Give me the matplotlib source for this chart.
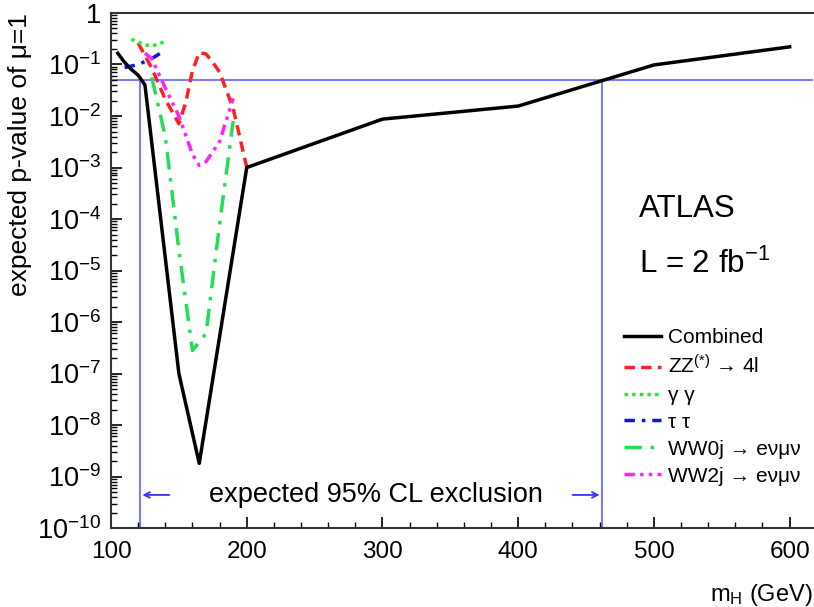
import matplotlib
matplotlib.use('Agg')
import matplotlib.pyplot as plt
from matplotlib.ticker import LogLocator, NullFormatter, MultipleLocator

#### ATLAS expected p-value of mu=1 vs m_H ####

# 數據
comb_m = [105, 110, 115, 120, 125, 150, 165, 200, 300, 400, 500, 600]
comb_p = [0.165, 0.11, 0.080, 0.062, 0.040, 1.0e-7, 1.8e-9, 1.0e-3, 8.7e-3, 1.56e-2, 0.098, 0.22]

zz_m = [120, 130, 140, 150, 155, 160, 165, 170, 175, 180, 190, 200]
zz_p = [0.26, 0.085, 0.021, 0.0071, 0.018, 0.076, 0.17, 0.16, 0.11, 0.071, 0.014, 0.001]

gg_m = [115, 120, 125, 130, 135, 140]
gg_p = [0.31, 0.27, 0.24, 0.23, 0.25, 0.28]

tt_m = [110, 120, 130, 140]
tt_p = [0.087, 0.10, 0.13, 0.19]

ww0_m = [130, 140, 150, 160, 170, 180, 190]
ww0_p = [0.056, 4.0e-3, 2.5e-5, 2.8e-7, 6.0e-7, 8.0e-5, 8.0e-3]

ww2_m = [125, 130, 140, 150, 160, 165, 170, 180, 190]
ww2_p = [0.166, 0.13, 0.035, 0.010, 1.8e-3, 1.1e-3, 1.3e-3, 3.2e-3, 0.022]

cl_level = 0.05
excl_low = 121
excl_high = 462

plt.rcParams['font.family'] = ['Liberation Sans', 'DejaVu Sans']
plt.rcParams['mathtext.fontset'] = 'custom'
plt.rcParams['mathtext.rm'] = 'Liberation Sans'
plt.rcParams['mathtext.it'] = 'Liberation Sans:italic'

fig = plt.figure(figsize=(8.14, 6.07), dpi=100)
ax = fig.add_axes([0.1364, 0.130, 0.862, 0.8486])

# 95% CL 線
blue = '#7b7bff'
ax.axhline(cl_level, color=blue, lw=1.5, zorder=1)
ax.vlines([excl_low, excl_high], 1e-10, cl_level, color=blue, lw=1.5, zorder=1)

# 各通道曲線
ax.plot(comb_m, comb_p, color='black', lw=2.5, label='Combined', zorder=5)
ax.plot(zz_m, zz_p, color='#ff2020', lw=2.5, ls=(0, (3, 1.8)),
        label='ZZ$^{(*)}$ \u2192 4l', zorder=4)
ax.plot(gg_m, gg_p, color='#22ee22', lw=2.5, ls=(0, (1, 1.2)),
        label='\u03b3 \u03b3', zorder=4)
ax.plot(tt_m, tt_p, color='#1010ee', lw=2.5, ls=(0, (3, 2, 1, 2)),
        label='\u03c4 \u03c4', zorder=4)
ax.plot(ww0_m, ww0_p, color='#22dd55', lw=2.5, ls=(0, (5, 2.5, 1, 2.5)),
        label='WW0j \u2192 e\u03bd\u03bc\u03bd', zorder=4)
ax.plot(ww2_m, ww2_p, color='#ff22ff', lw=2.5, ls=(0, (3, 1.5, 1, 1.5, 1, 1.5)),
        label='WW2j \u2192 e\u03bd\u03bc\u03bd', zorder=4)

ax.set_yscale('log')
ax.set_ylim(1e-10, 1)
ax.set_xlim(100, 617)

# 刻度
ax.xaxis.set_major_locator(MultipleLocator(100))
ax.xaxis.set_minor_locator(MultipleLocator(20))
ax.set_yticks([10.0 ** -k for k in range(11)])
ax.set_yticklabels(['1'] + ['$10^{-%d}$' % k for k in range(1, 11)])
ax.yaxis.set_minor_locator(LogLocator(base=10, subs=range(2, 10), numticks=20))
ax.yaxis.set_minor_formatter(NullFormatter())
ax.tick_params(which='major', direction='in', length=8, width=1.2, pad=7)
ax.tick_params(which='minor', direction='in', length=4, width=1.0)
ax.tick_params(axis='y', labelsize=19.5)
ax.tick_params(axis='x', pad=9, labelsize=17.5)

for side in ['left', 'bottom', 'top']:
    ax.spines[side].set_linewidth(1.5)
    ax.spines[side].set_color('#333333')
ax.spines['right'].set_visible(False)

ax.set_ylabel('expected p-value of \u03bc=1', fontsize=19, loc='top', labelpad=4)
ax.set_xlabel('m$_{\\mathrm{H}}$ (GeV)', fontsize=17, loc='right', labelpad=14)

# 文字
ax.text(0.753, 0.604, 'ATLAS', transform=ax.transAxes, fontsize=22.5, va='baseline')
ax.text(0.753, 0.495, 'L = 2 fb$^{-1}$', transform=ax.transAxes, fontsize=22.5,
        va='baseline')

ax.text(295, 4.4e-10, 'expected 95% CL exclusion', fontsize=19.5,
        ha='center', va='center')
ax.annotate('', xy=(excl_low, 4.4e-10), xytext=(145, 4.4e-10),
            arrowprops=dict(arrowstyle='->', color='#3333ff', lw=1.3))
ax.annotate('', xy=(excl_high, 4.4e-10), xytext=(438, 4.4e-10),
            arrowprops=dict(arrowstyle='->', color='#3333ff', lw=1.3))

ax.legend(loc='upper left', bbox_to_anchor=(0.719, 0.405), frameon=False,
          fontsize=15, handlelength=1.8, handletextpad=0.3, labelspacing=0.38,
          borderaxespad=0)

fig.savefig('out.png', dpi=100)
